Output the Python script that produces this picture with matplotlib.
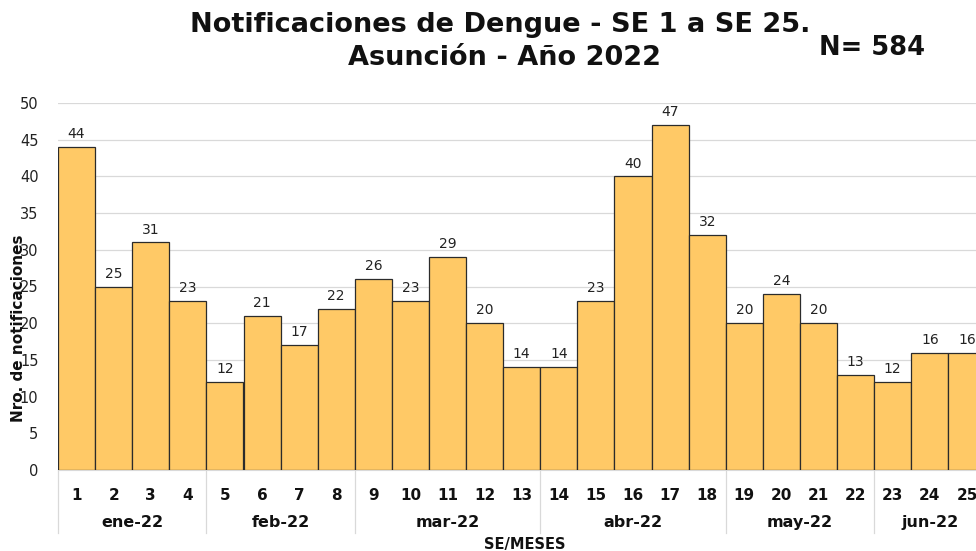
import matplotlib
matplotlib.use("Agg")
import matplotlib.pyplot as plt
import matplotlib.transforms as mtransforms

weeks = [str(i) for i in range(1, 26)]
values = [44, 25, 31, 23, 12, 21, 17, 22, 26, 23, 29, 20, 14, 14, 23, 40, 47, 32, 20, 24, 20, 13, 12, 16, 16]
months = ["ene-22", "feb-22", "mar-22", "abr-22", "may-22", "jun-22"]
month_weeks = [4, 4, 5, 5, 4, 3]
yticks = [0, 5, 10, 15, 20, 25, 30, 35, 40, 45, 50]

fig = plt.figure(figsize=(9.76, 5.51), dpi=100)
ax = fig.add_axes([58/976, 81/551, 927.5/976, 367/551])

x = list(range(len(values)))
bars = ax.bar(x, values, width=1.0, color="#FFC966", edgecolor="#2b2b2b", linewidth=0.9, zorder=3)
for xi, v in zip(x, values):
    ax.text(xi, v + 0.8, str(v), ha="center", va="bottom", fontsize=10, color="#222222", zorder=4)

ax.set_xlim(-0.5, len(values) - 0.5)
ax.set_ylim(0, 50)
ax.set_yticks(yticks)
ax.set_yticklabels([str(t) for t in yticks], fontsize=10.5, color="#222222")
ax.yaxis.grid(True, color="#d9d9d9", linewidth=0.9, zorder=0)
ax.tick_params(axis="y", length=0, pad=14)
ax.set_xticks(x)
ax.set_xticklabels(weeks, fontsize=11, fontweight="bold", color="#111111")
ax.tick_params(axis="x", length=0, pad=13)
for s in ["left", "right", "top"]:
    ax.spines[s].set_visible(False)
ax.spines["bottom"].set_color("#d9d9d9")

trans = mtransforms.blended_transform_factory(ax.transData, ax.transAxes)
start = -0.5
for m, n in zip(months, month_weeks):
    ax.plot([start, start], [0, -0.172], transform=trans, color="#d9d9d9", linewidth=0.9, clip_on=False)
    ax.text(start + n / 2, -0.142, m, transform=trans, ha="center", va="center",
            fontsize=11.5, fontweight="bold", color="#111111")
    start += n
ax.plot([start, start], [0, -0.172], transform=trans, color="#d9d9d9", linewidth=0.9, clip_on=False)

fig.text(525/976, 1 - 545/551, "SE/MESES", ha="center", va="center", fontsize=10.5, fontweight="bold", color="#111111")
fig.text(19/976, 1 - 328/551, "Nro. de notificaciones", rotation=90, ha="center", va="center",
         fontsize=11, fontweight="bold", color="#111111")

fig.text(500/976, 1 - 25/551, "Notificaciones de Dengue - SE 1 a SE 25.", ha="center", va="center",
         fontsize=19.5, fontweight="bold", color="#111111")
fig.text(505/976, 1 - 58/551, "Asunción - Año 2022", ha="center", va="center",
         fontsize=19.5, fontweight="bold", color="#111111")
fig.text(872/976, 1 - 48/551, "N= 584", ha="center", va="center",
         fontsize=18.5, fontweight="bold", color="#111111")

fig.savefig("out.png", dpi=100)
